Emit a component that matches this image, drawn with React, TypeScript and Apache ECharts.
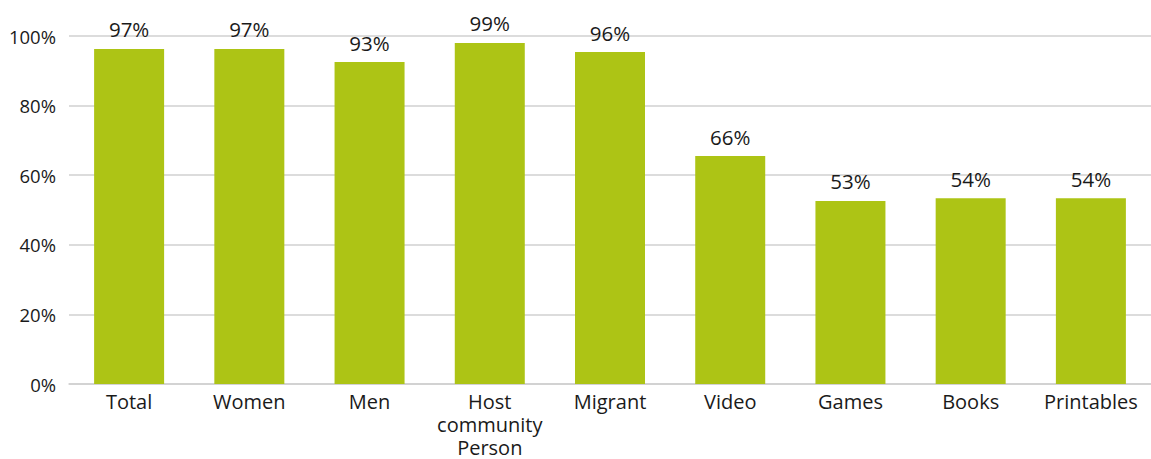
import React, { useEffect, useRef } from "react";
import * as echarts from "echarts";

const categories = ["Total", "Women", "Men", "Host\ncommunity\nPerson", "Migrant", "Video", "Games", "Books", "Printables"];
const values = [96.3, 96.3, 92.5, 98.0, 95.4, 65.5, 52.6, 53.4, 53.4];
const valueLabels = ["97%", "97%", "93%", "99%", "96%", "66%", "53%", "54%", "54%"];
const yTicks = [0, 20, 40, 60, 80, 100];

const FONT = "'Open Sans', 'Noto Sans', sans-serif";

export default function App() {
  const ref = useRef<HTMLDivElement>(null);
  useEffect(() => {
    if (!ref.current) return;
    const chart = echarts.init(ref.current, null, { renderer: "svg" });
    chart.setOption({
      animation: false,
      grid: { left: 69, right: -5, top: 36, bottom: 75, containLabel: false },
      xAxis: {
        type: "category",
        data: categories,
        axisLine: { show: true, lineStyle: { color: "#cfcfcf", width: 1.5 } },
        axisTick: { show: false },
        axisLabel: {
          color: "#1a1a1a",
          fontFamily: FONT,
          fontSize: 20,
          lineHeight: 23,
          margin: 6,
          interval: 0,
        },
      },
      yAxis: {
        type: "value",
        min: yTicks[0],
        max: yTicks[yTicks.length - 1],
        interval: 20,
        axisLine: { show: false },
        axisTick: { show: false },
        splitLine: { lineStyle: { color: "#d0d0d0", width: 1.5 } },
        axisLabel: {
          color: "#1a1a1a",
          fontFamily: FONT,
          fontSize: 18.5,
          margin: 13,
          formatter: (v: number) => v + "%",
        },
      },
      series: [
        {
          type: "bar",
          data: values,
          barWidth: 70,
          itemStyle: { color: "#adc415" },
          label: {
            show: true,
            position: "top",
            distance: 9,
            color: "#1a1a1a",
            fontFamily: FONT,
            fontSize: 20.5,
            formatter: (p: any) => valueLabels[p.dataIndex],
          },
        },
      ],
    });
    return () => chart.dispose();
  }, []);
  return (
    <div
      ref={ref}
      style={{ position: "fixed", left: 0, top: 0, width: 1151, height: 459, background: "#fff" }}
    />
  );
}
